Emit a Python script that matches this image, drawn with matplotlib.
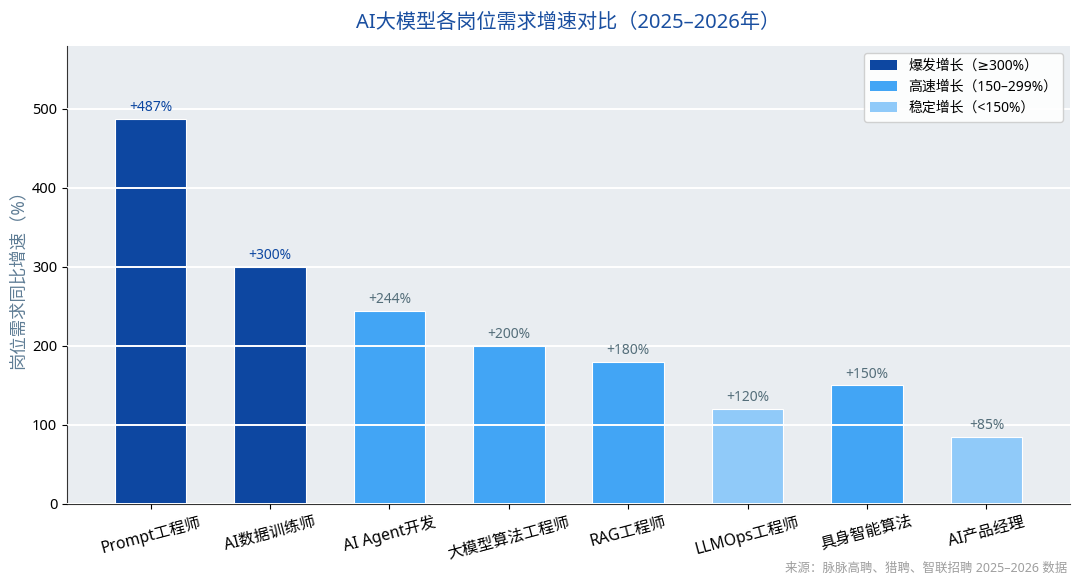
import matplotlib
matplotlib.use("Agg")
import matplotlib.pyplot as plt
from matplotlib.patches import Patch

plt.rcParams['font.family'] = ['Noto Sans', 'DejaVu Sans', 'Noto Sans CJK SC']

categories = ["Prompt工程师", "AI数据训练师", "AI Agent开发", "大模型算法工程师",
              "RAG工程师", "LLMOps工程师", "具身智能算法", "AI产品经理"]
growth = [487, 300, 244, 200, 180, 120, 150, 85]
tiers = ["爆发", "爆发", "高速", "高速", "高速", "稳定", "高速", "稳定"]

tier_colors = {"爆发": "#0D47A1", "高速": "#42A5F5", "稳定": "#90CAF9"}
tier_labels = {"爆发": "爆发增长（≥300%）", "高速": "高速增长（150–299%）", "稳定": "稳定增长（<150%）"}
label_colors = {"爆发": "#0D47A1", "高速": "#546E7A", "稳定": "#546E7A"}

fig = plt.figure(figsize=(10.8, 5.87), dpi=100)
ax = fig.add_axes([0.062, 0.1414, 0.9288, 0.7802])
ax.set_facecolor("#E9EDF1")

x = list(range(len(categories)))
ax.bar(x, growth, width=0.6, color=[tier_colors[t] for t in tiers],
       edgecolor="white", linewidth=0.8, zorder=2)
ax.set_axisbelow(False)
ax.yaxis.grid(True, color="white", linewidth=1.4, zorder=3)
ax.xaxis.grid(False)

for xi, v, t in zip(x, growth, tiers):
    ax.text(xi, v + 5, f"+{v}%", ha="center", va="bottom", fontsize=10,
            color=label_colors[t], zorder=4)

ax.set_xlim(-0.7, 7.7)
ax.set_ylim(0, max(growth) * 1.19)
ax.set_yticks([0, 100, 200, 300, 400, 500])
ax.set_xticks(x)
ax.set_xticklabels(categories, rotation=15, ha="center", fontsize=11.3)
ax.tick_params(axis="y", labelsize=10.5)
for s in ["top", "right"]:
    ax.spines[s].set_visible(False)
for s in ["left", "bottom"]:
    ax.spines[s].set_color("#333333")

ax.set_ylabel("岗位需求同比增速（%）", fontsize=12.5, color="#5F7D95")
ax.set_title("AI大模型各岗位需求增速对比（2025–2026年）", fontsize=14.5,
             color="#1A4FA0", pad=13)

handles = [Patch(facecolor=tier_colors[k], label=tier_labels[k]) for k in ["爆发", "高速", "稳定"]]
ax.legend(handles=handles, loc="upper right", fontsize=10, frameon=True,
          facecolor="white", edgecolor="#CCCCCC", framealpha=0.9, labelspacing=0.45)

fig.text(0.988, 0.02, "来源：脉脉高聘、猎聘、智联招聘 2025–2026 数据", ha="right",
         va="bottom", fontsize=9, color="#9E9E9E")

fig.savefig("out.png", dpi=100)
